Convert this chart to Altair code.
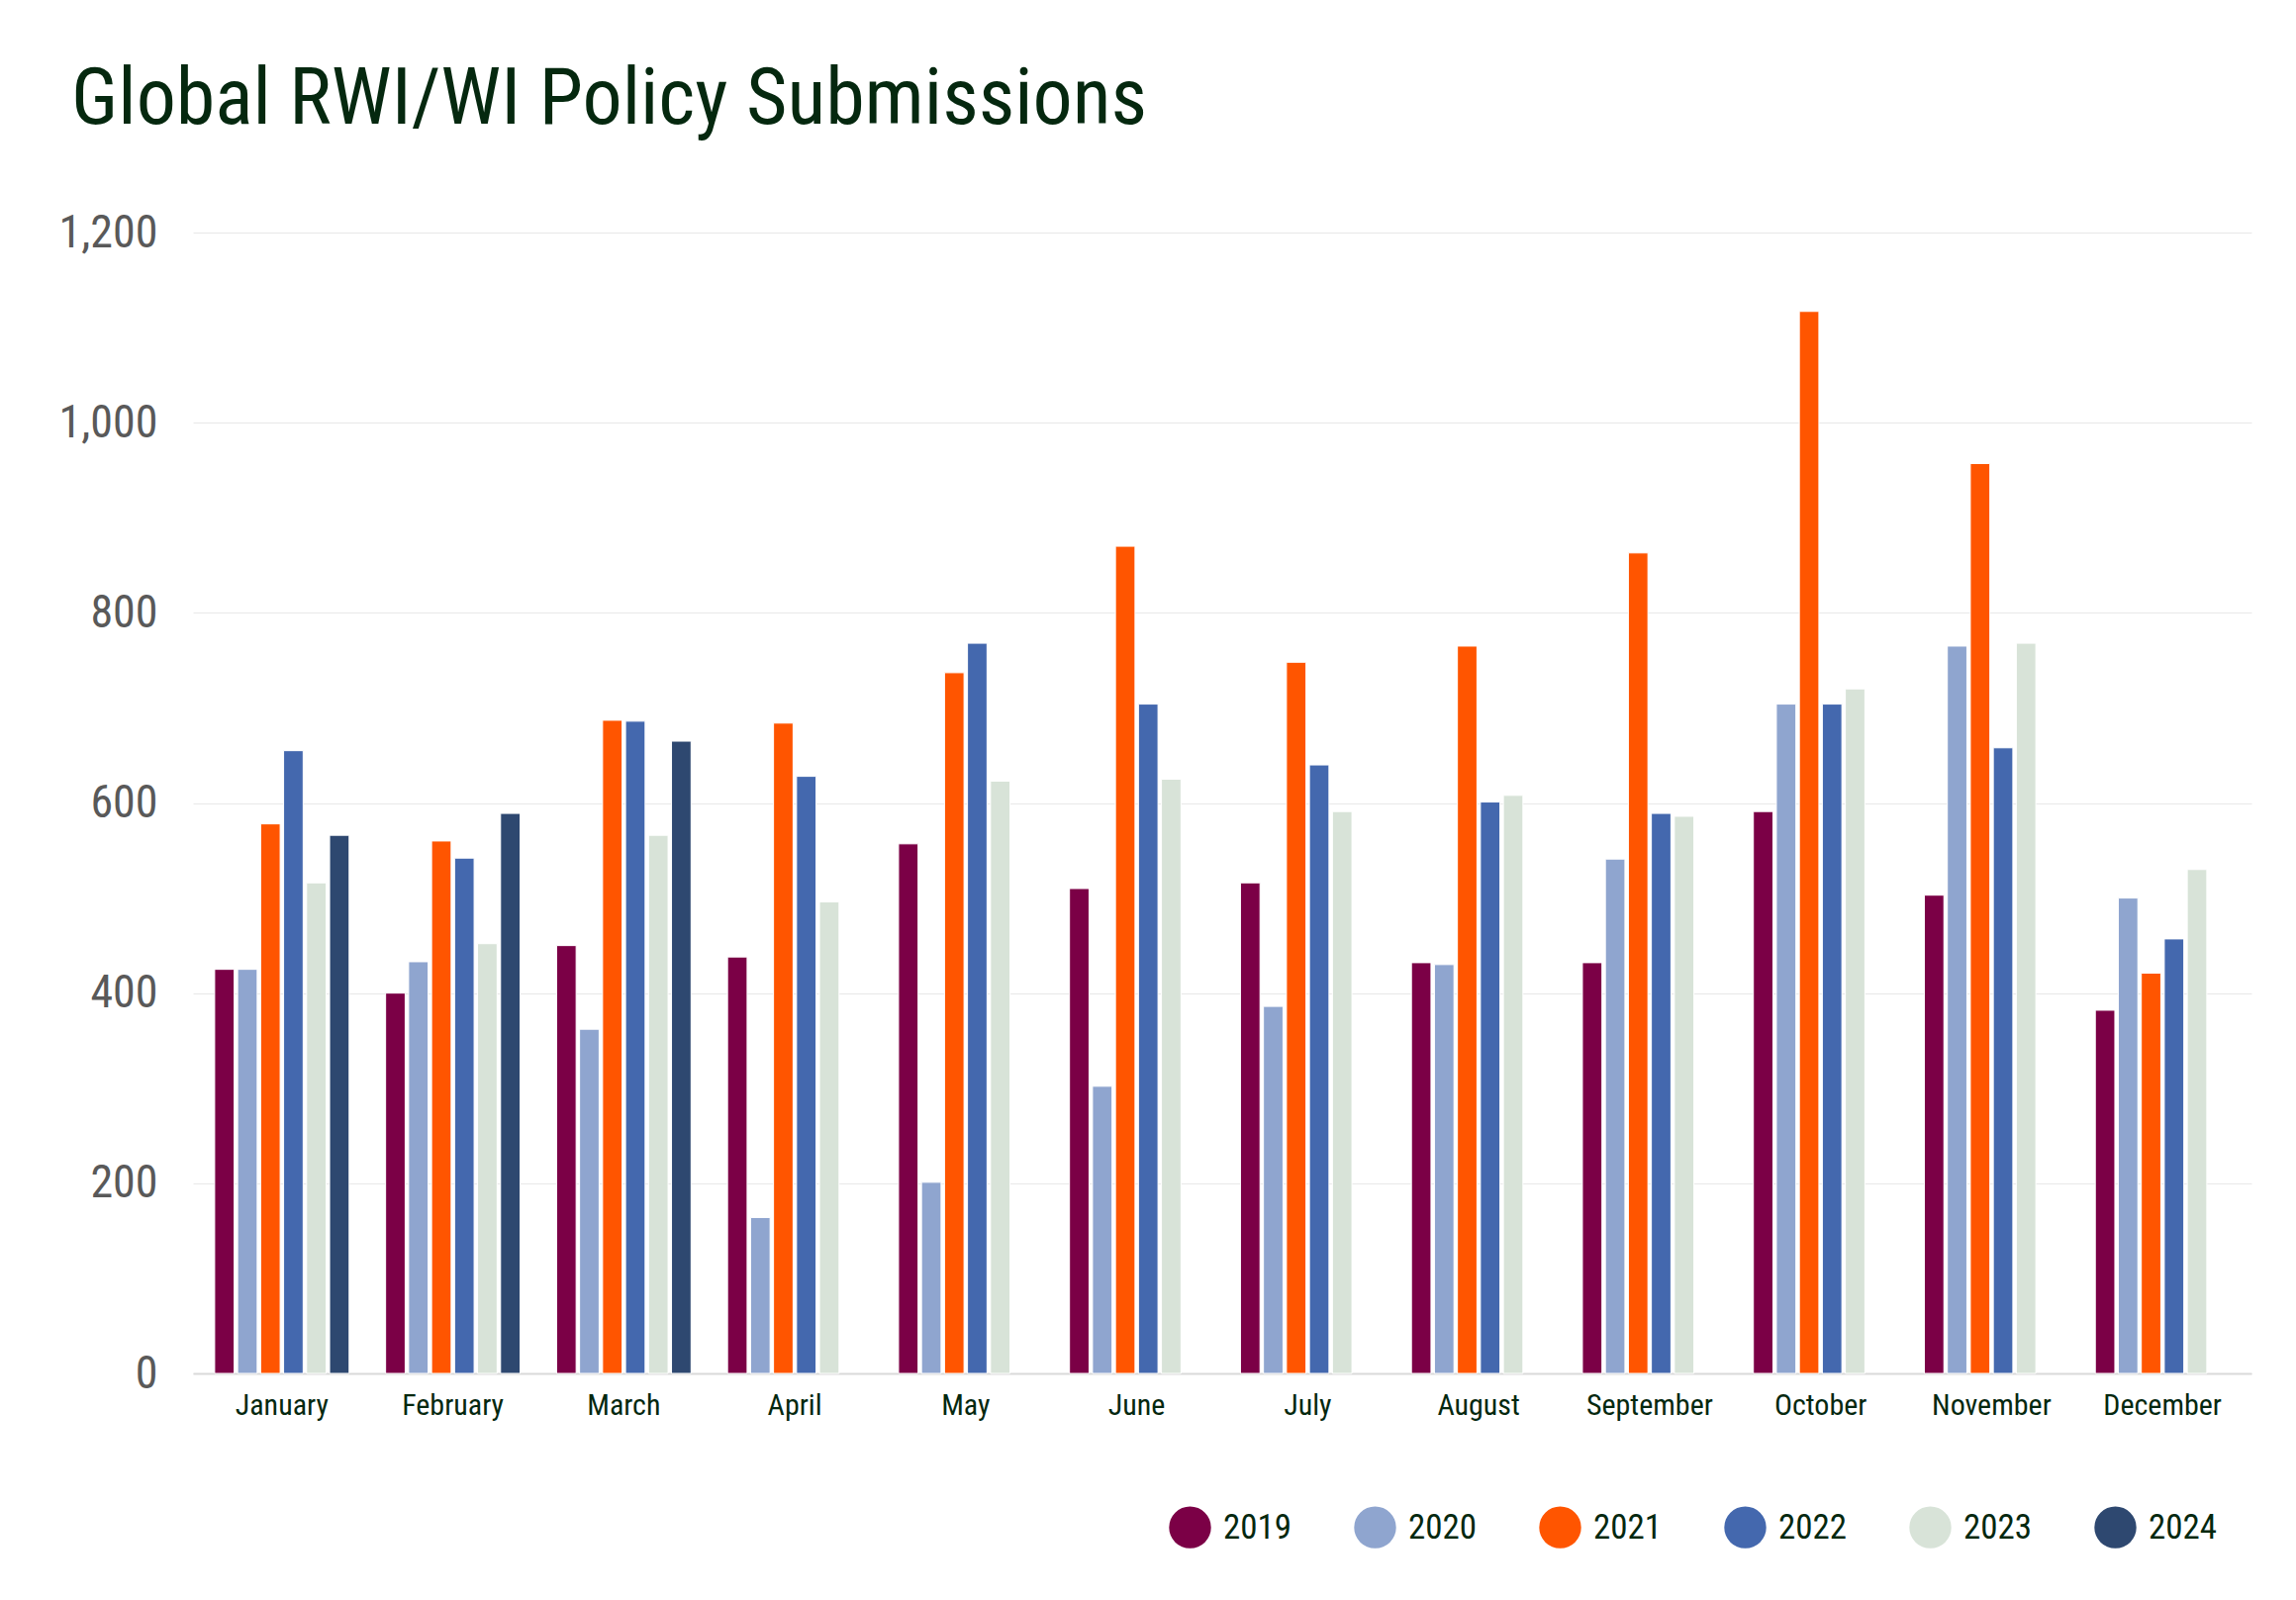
import altair as alt
import pandas as pd

months = ["January", "February", "March", "April", "May", "June",
          "July", "August", "September", "October", "November", "December"]
years = ["2019", "2020", "2021", "2022", "2023", "2024"]
year_colors = ["#7b0046", "#8fa5cf", "#ff5500", "#4468ae", "#d8e3d8", "#2e4870"]

# monthly policy submissions per year
y2019 = [425, 400, 450, 438, 557, 510, 516, 432, 432, 591, 503, 382]
y2020 = [425, 433, 362, 164, 201, 302, 386, 430, 541, 704, 765, 500]
y2021 = [578, 560, 687, 684, 737, 870, 748, 765, 863, 1117, 957, 421]
y2022 = [655, 542, 686, 628, 768, 704, 640, 601, 589, 704, 658, 457]
y2023 = [516, 452, 566, 496, 623, 625, 591, 608, 586, 720, 768, 530]
y2024 = [566, 589, 665, None, None, None, None, None, None, None, None, None]

rows = []
for year, values in zip(years, [y2019, y2020, y2021, y2022, y2023, y2024]):
    for month, v in zip(months, values):
        if v is not None:
            rows.append({"month": month, "year": year, "submissions": v})
df = pd.DataFrame(rows)

FONT = "Roboto Condensed, Liberation Sans Narrow, DejaVu Sans Condensed, sans-serif"
DARK = "#05280f"

x_axis = alt.Axis(
    title=None,
    labelAngle=0,
    labelFont=FONT,
    labelFontSize=30,
    labelColor=DARK,
    labelPadding=17,
    ticks=False,
    grid=False,
    domainColor="#d9d9d9",
    domainWidth=2,
)
y_axis = alt.Axis(
    title=None,
    values=[0, 200, 400, 600, 800, 1000, 1200],
    format=",d",
    labelFont=FONT,
    labelFontSize=46,
    labelColor="#595959",
    labelPadding=36,
    ticks=False,
    domain=False,
    gridColor="#e8e8e8",
    gridWidth=1,
)
legend = alt.Legend(
    title=None,
    orient="none",
    legendX=986,
    legendY=1287,
    direction="horizontal",
    symbolType="circle",
    symbolSize=1800,
    symbolStrokeWidth=0,
    symbolOpacity=1,
    labelFont=FONT,
    labelFontSize=35,
    labelColor=DARK,
    labelOffset=12,
    columnPadding=62,
    padding=0,
)

chart = (
    alt.Chart(df)
    .mark_bar(stroke="white", strokeWidth=1)
    .encode(
        x=alt.X("month:N", sort=months,
                scale=alt.Scale(paddingInner=0.2, paddingOuter=0.12), axis=x_axis),
        xOffset=alt.XOffset("year:N",
                            scale=alt.Scale(domain=years, paddingInner=0.15, paddingOuter=0.05)),
        y=alt.Y("submissions:Q", scale=alt.Scale(domain=[0, 1200]), axis=y_axis),
        color=alt.Color("year:N", scale=alt.Scale(domain=years, range=year_colors),
                        legend=legend),
    )
    .properties(
        width=2080,
        height=1153,
        autosize=alt.AutoSizeParams(type="none"),
        padding={"left": 187, "top": 227, "right": 37, "bottom": 221},
        title=alt.TitleParams(
            text="Global RWI/WI Policy Submissions",
            anchor="start",
            frame="group",
            dx=-123,
            offset=7,
            baseline="alphabetic",
            font=FONT,
            fontSize=80,
            fontWeight="normal",
            color=DARK,
        ),
    )
    .configure_view(stroke=None)
)

chart.save("out.html", embed_options={"renderer": "svg", "actions": False})
